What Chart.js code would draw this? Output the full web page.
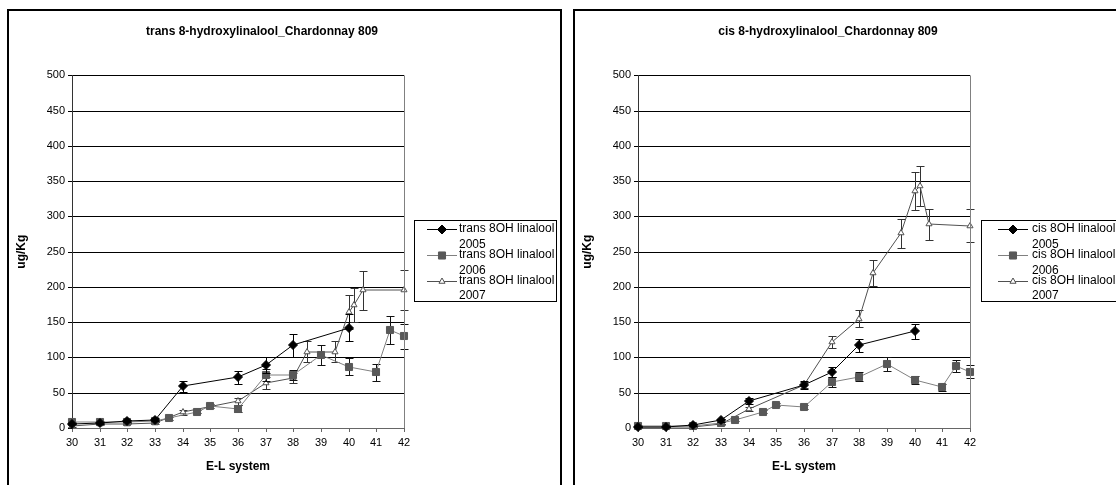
<!DOCTYPE html>
<html>
<head>
<meta charset="UTF-8">
<title>8-hydroxylinalool - Chardonnay 809</title>
<script src="https://cdn.jsdelivr.net/npm/chart.js@4.4.0/dist/chart.umd.min.js"></script>
<style>
  body { margin: 0; background: #fff; overflow: hidden; width: 1116px; height: 485px; position: relative; }
  .panel { position: absolute; top: 9px; width: 551px; height: 490px; border: 2px solid #000; background: #fff; }
  #panelA { left: 7px; }
  #panelB { left: 573px; }
  canvas { display: block; }
</style>
</head>
<body>
<div class="panel" id="panelA"><canvas id="chartA" width="551" height="474"></canvas></div>
<div class="panel" id="panelB"><canvas id="chartB" width="551" height="474"></canvas></div>

<script type="text/javascript">
    // axis ranges
    var xMin = 30, xMax = 42, xStep = 1;
    var yMin = 0, yMax = 500, yStep = 50;
    var years = ["2005", "2006", "2007"];

    // trans 8-hydroxylinalool
    var trans05x = [30, 31, 32, 33, 34, 36, 37, 38, 40];
    var trans05y = [6, 7, 10, 12, 59, 72, 89, 117, 142];
    var trans05e = [1, 1, 1, 2, 8, 9, 11, 16, 19];

    var trans06x = [30, 31, 32, 33, 33.5, 34.5, 35, 36, 37, 38, 39, 40, 41, 41.5, 42];
    var trans06y = [8, 9, 8, 10, 14, 23, 31, 27, 75, 75, 103, 87, 79, 139, 130];
    var trans06e = [1, 1, 1, 1, 2, 2, 3, 5, 9, 7, 14, 12, 12, 20, 18];

    var trans07x = [30, 31, 32, 33, 34, 36, 37, 38, 38.5, 39.5, 40, 40.2, 40.5, 42];
    var trans07y = [3, 5, 6, 7, 22, 38, 64, 71, 108, 108, 164, 175, 195, 196];
    var trans07e = [1, 1, 1, 1, 4, 5, 9, 7, 15, 15, 24, 24, 27, 28];

    // cis 8-hydroxylinalool
    var cis05x = [30, 31, 32, 33, 34, 36, 37, 38, 40];
    var cis05y = [2, 2, 4, 11, 38, 61, 80, 117, 137];
    var cis05e = [1, 1, 1, 2, 4, 5, 7, 9, 11];

    var cis06x = [30, 31, 32, 33, 33.5, 34.5, 35, 36, 37, 38, 39, 40, 41, 41.5, 42];
    var cis06y = [3, 3, 3, 7, 12, 23, 33, 30, 65, 73, 91, 68, 58, 88, 80];
    var cis06e = [1, 1, 1, 1, 2, 2, 2, 3, 7, 7, 10, 6, 5, 8, 9];

    var cis07x = [30, 31, 32, 33, 34, 36, 37, 38, 38.5, 39.5, 40, 40.2, 40.5, 42];
    var cis07y = [1, 1, 2, 5, 27, 61, 122, 155, 220, 276, 336, 343, 289, 287];
    var cis07e = [1, 1, 1, 1, 3, 4, 9, 12, 18, 21, 27, 28, 22, 23];

    Chart.defaults.font.family = '"Liberation Sans", Arial, sans-serif';
    Chart.defaults.color = "#000";

    var styles = [
        { borderColor: "#000", pointStyle: "rectRot", pointRadius: 4.5, pointBackgroundColor: "#000", pointBorderColor: "#000", errColor: "#000" },
        { borderColor: "#808080", pointStyle: "rect", pointRadius: 5, pointBackgroundColor: "#585858", pointBorderColor: "#585858", errColor: "#111" },
        { borderColor: "#505050", pointStyle: "triangle", pointRadius: 3.5, pointBackgroundColor: "#fff", pointBorderColor: "#505050", errColor: "#333" }
    ];

    function makeDataset(name, idx, xs, ys, errs) {
        var pts = [];
        for (var i = 0; i < xs.length; i++) {
            pts.push({ x: xs[i], y: ys[i] });
        }
        var ds = {
            label: name + " " + years[idx],
            legendLines: [name, years[idx]],
            data: pts,
            errors: errs,
            showLine: true,
            borderWidth: 1,
            pointBorderWidth: 1,
            pointHoverRadius: 0,
            tension: 0,
            clip: false
        };
        return Object.assign(ds, styles[idx]);
    }

    // error bars drawn under each series through the chart scales
    var errorBars = {
        id: "errorBars",
        beforeDatasetDraw: function (chart, args) {
            var ds = chart.data.datasets[args.index];
            if (!ds.errors) return;
            var xs = chart.scales.x, ys = chart.scales.y, ctx = chart.ctx;
            ctx.save();
            ctx.strokeStyle = ds.errColor;
            ctx.lineWidth = 1;
            ds.data.forEach(function (p, i) {
                var e = ds.errors[i];
                if (!e) return;
                var px = Math.round(xs.getPixelForValue(p.x)) + 0.5;
                var top = Math.round(ys.getPixelForValue(p.y + e)) + 0.5;
                var bot = Math.round(ys.getPixelForValue(Math.max(p.y - e, 0))) + 0.5;
                ctx.beginPath();
                ctx.moveTo(px, top); ctx.lineTo(px, bot);
                ctx.moveTo(px - 4, top); ctx.lineTo(px + 4, top);
                ctx.moveTo(px - 4, bot); ctx.lineTo(px + 4, bot);
                ctx.stroke();
            });
            ctx.restore();
        }
    };

    // gray right edge of the plot area
    var plotEdge = {
        id: "plotEdge",
        afterDraw: function (chart) {
            var a = chart.chartArea, ctx = chart.ctx;
            ctx.save();
            ctx.strokeStyle = "#808080";
            ctx.lineWidth = 1;
            ctx.beginPath();
            ctx.moveTo(Math.round(a.right) + 0.5, a.top);
            ctx.lineTo(Math.round(a.right) + 0.5, a.bottom);
            ctx.stroke();
            ctx.restore();
        }
    };

    function drawMarker(ctx, style, r, x, y) {
        ctx.beginPath();
        if (style === "rectRot") {
            ctx.moveTo(x, y - r); ctx.lineTo(x + r, y); ctx.lineTo(x, y + r); ctx.lineTo(x - r, y);
        } else if (style === "rect") {
            var s = r * Math.SQRT1_2;
            ctx.rect(x - s, y - s, 2 * s, 2 * s);
        } else {
            ctx.moveTo(x, y - r); ctx.lineTo(x + r * 0.87, y + r * 0.5); ctx.lineTo(x - r * 0.87, y + r * 0.5);
        }
        ctx.closePath();
        ctx.fill();
        ctx.stroke();
    }

    // boxed legend with two-line labels, like the spreadsheet original
    var boxLegend = {
        id: "boxLegend",
        afterDraw: function (chart, args, o) {
            var ctx = chart.ctx;
            ctx.save();
            ctx.lineWidth = 1;
            ctx.strokeStyle = "#000";
            ctx.fillStyle = "#fff";
            ctx.fillRect(o.left, o.top, o.width, o.height);
            ctx.strokeRect(o.left + 0.5, o.top + 0.5, o.width, o.height);
            ctx.font = '12px "Liberation Sans", Arial, sans-serif';
            ctx.textBaseline = "middle";
            chart.data.datasets.forEach(function (ds, i) {
                var y = o.firstY + i * o.entryGap;
                ctx.strokeStyle = ds.borderColor;
                ctx.beginPath();
                ctx.moveTo(o.lineFrom, Math.round(y) + 0.5);
                ctx.lineTo(o.lineTo, Math.round(y) + 0.5);
                ctx.stroke();
                ctx.fillStyle = ds.pointBackgroundColor;
                ctx.strokeStyle = ds.pointBorderColor;
                drawMarker(ctx, ds.pointStyle, ds.pointRadius, (o.lineFrom + o.lineTo) / 2, Math.round(y) + 0.5);
                ctx.fillStyle = "#000";
                ds.legendLines.forEach(function (t, j) {
                    ctx.fillText(t, o.textX, y + j * o.lineGap);
                });
            });
            ctx.restore();
        }
    };

    function makeChart(canvasId, titleText, name, sets, legendOpts) {
        var datasets = [];
        for (var i = 0; i < sets.length; i++) {
            datasets.push(makeDataset(name, i, sets[i][0], sets[i][1], sets[i][2]));
        }
        return new Chart(canvasId, {
            type: "scatter",
            data: { datasets: datasets },
            plugins: [errorBars, plotEdge, boxLegend],
            options: {
                responsive: false,
                animation: false,
                events: [],
                layout: { padding: { left: 0, right: 45, top: 0, bottom: 0 } },
                plugins: {
                    legend: { display: false },
                    tooltip: { enabled: false },
                    title: {
                        display: true,
                        text: titleText,
                        color: "#000",
                        font: { size: 12, weight: "bold" },
                        padding: { top: 13, bottom: 37 }
                    },
                    boxLegend: legendOpts
                },
                scales: {
                    x: {
                        type: "linear",
                        min: xMin, max: xMax,
                        alignToPixels: true,
                        ticks: { stepSize: xStep, autoSkip: false, maxRotation: 0, font: { size: 11 }, padding: 4 },
                        grid: { drawOnChartArea: false, tickLength: 4, color: "#666" },
                        border: { color: "#666" },
                        title: { display: true, text: "E-L system", font: { size: 12, weight: "bold" }, padding: { top: 0, bottom: 11 } },
                        afterFit: function (s) { s.height = 57; }
                    },
                    y: {
                        min: yMin, max: yMax,
                        alignToPixels: true,
                        ticks: { stepSize: yStep, font: { size: 11 }, padding: 3 },
                        grid: { color: "#000", tickLength: 4, tickColor: "#000" },
                        border: { color: "#333" },
                        title: { display: true, text: "ug/Kg", font: { size: 12, weight: "bold" }, padding: { top: 5, bottom: 0 } },
                        afterFit: function (s) { s.width = 63; }
                    },
                    pad: {
                        position: "right",
                        display: true,
                        grid: { display: false },
                        ticks: { display: false },
                        border: { display: false },
                        afterFit: function (s) { s.width = 111; }
                    }
                }
            }
        });
    }

    makeChart("chartA", "trans 8-hydroxylinalool_Chardonnay 809", "trans 8OH linalool",
        [[trans05x, trans05y, trans05e], [trans06x, trans06y, trans06e], [trans07x, trans07y, trans07e]],
        { left: 405, top: 209, width: 142, height: 81, lineFrom: 418, lineTo: 448, textX: 450, firstY: 217.8, lineGap: 15.5, entryGap: 25.9 });

    makeChart("chartB", "cis 8-hydroxylinalool_Chardonnay 809", "cis 8OH linalool",
        [[cis05x, cis05y, cis05e], [cis06x, cis06y, cis06e], [cis07x, cis07y, cis07e]],
        { left: 406, top: 209, width: 142, height: 81, lineFrom: 423, lineTo: 453, textX: 457, firstY: 217.8, lineGap: 15.5, entryGap: 25.9 });
</script>
</body>
</html>
